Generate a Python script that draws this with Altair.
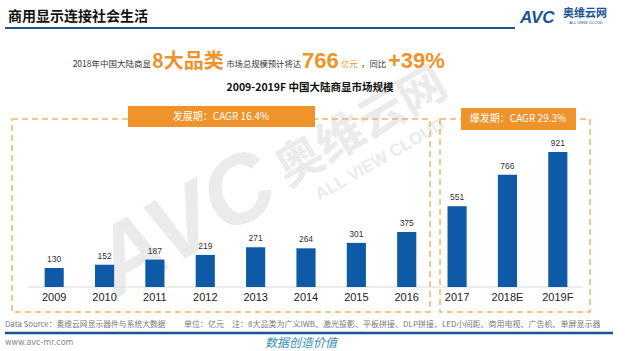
import altair as alt
import pandas as pd

years = ["2009", "2010", "2011", "2012", "2013", "2014", "2015", "2016", "2017", "2018E", "2019F"]
values = [130, 152, 187, 219, 271, 264, 301, 375, 551, 766, 921]

title_text = "商用显示连接社会生活"
subtitle_text = "2009-2019F  中国大陆商显市场规模"
phase1_label = "发展期：CAGR 16.4%"
phase2_label = "爆发期：CAGR 29.3%"
source_text = "Data Source：奥维云网显示器件与系统大数据"
unit_text = "单位：亿元"
note_text = "注：8大品类为广义IWB、激光投影、平板拼接、DLP拼接、LED小间距、商用电视、广告机、单屏显示器"

CJK = "Noto Sans CJK SC"
LAT = "Liberation Sans"
ORANGE = "#F0932B"
BLUE = "#0E5AA7"
DARKBLUE = "#1B5496"

df = pd.DataFrame({"year": years, "value": values})

W, H = 625, 351

xscale = alt.Scale(domain=years, range=[29, 583], paddingInner=0.62, paddingOuter=0.31)
yscale = alt.Scale(domain=[0, 921], range=[287, 152], nice=False, zero=True)

base = alt.Chart(df)

one = pd.DataFrame({"k": [0]})


def txt(text, x, y, size, color="#333333", font=CJK, weight="normal", align="left",
        baseline="alphabetic", angle=0, style="normal", opacity=1.0):
    kw = dict(text=text, fontSize=size, color=color, font=font, fontWeight=weight,
              align=align, baseline=baseline, fontStyle=style, opacity=opacity)
    if angle:
        kw["angle"] = angle
    return alt.Chart(one).mark_text(**kw).encode(x=alt.value(x), y=alt.value(y))


def rule(x1, x2, y1, y2, color, width, dash=None):
    kw = dict(color=color, strokeWidth=width)
    if dash:
        kw["strokeDash"] = dash
    return alt.Chart(one).mark_rule(**kw).encode(
        x=alt.value(x1), x2=alt.value(x2), y=alt.value(y1), y2=alt.value(y2))


def box(x1, x2, y1, y2, fill=None, stroke=None, dash=None, sw=1.5):
    kw = {}
    if fill:
        kw["fill"] = fill
    else:
        kw["fillOpacity"] = 0
    if stroke:
        kw["stroke"] = stroke
        kw["strokeWidth"] = sw
    if dash:
        kw["strokeDash"] = dash
    return alt.Chart(one).mark_rect(**kw).encode(
        x=alt.value(x1), x2=alt.value(x2), y=alt.value(y1), y2=alt.value(y2))


layers = []

# watermark
WM = "#ebebeb"
layers.append(txt("AVC", 185, 225, 95, color=WM, font=LAT, weight="bold", align="center",
                  baseline="middle", angle=330, style="italic"))
layers.append(txt("奥维云网", 362, 128, 47, color=WM, weight="bold", align="center",
                  baseline="middle", angle=330))
layers.append(txt("ALL VIEW CLOUD", 380, 160, 17, color=WM, font=LAT, weight="bold",
                  align="center", baseline="middle", angle=330))

# header
layers.append(txt(title_text, 8, 17, 14, color="#111111", weight="bold", baseline="middle"))
layers.append(rule(5, 515, 28, 28, DARKBLUE, 2))
layers.append(txt("AVC", 520, 18, 17, color=DARKBLUE, font=LAT, weight="bold",
                  baseline="middle", style="italic"))
layers.append(txt("奥维云网", 563, 14, 11, color=DARKBLUE, weight="bold", baseline="middle"))
layers.append(txt("ALL VIEW CLOUD", 586, 23, 4, color=DARKBLUE, font=LAT, align="center",
                  baseline="middle"))

# headline
layers.append(txt("2018年中国大陆商显", 151, 67, 8.5, align="right"))
layers.append(txt("8大品类", 152, 68, 20, color=ORANGE, weight="bold"))
layers.append(txt("市场总规模预计将达", 301, 67, 8.3, align="right"))
layers.append(txt("766", 302, 68, 22, color=ORANGE, font=LAT, weight="bold"))
layers.append(txt("亿元", 341, 67, 8.3, color=ORANGE))
layers.append(txt("，同比", 386, 67, 8.3, align="right"))
layers.append(txt("+39%", 388, 68, 22, color=ORANGE, font=LAT, weight="bold"))

layers.append(txt(subtitle_text, 310, 88, 10.5, color="#111111", weight="bold",
                  align="center", baseline="middle"))

# dashed phase boxes
layers.append(box(12, 430, 119, 312, stroke="#E8B86A", dash=[6, 4], sw=1.5))
layers.append(box(440, 590, 119, 312, stroke="#E8B86A", dash=[6, 4], sw=1.5))
layers.append(box(128, 315, 106, 127, fill=ORANGE))
layers.append(txt(phase1_label, 221, 117, 10, color="white", align="center", baseline="middle"))
layers.append(box(461, 576, 108, 130, fill=ORANGE))
layers.append(txt(phase2_label, 518, 119, 10, color="white", align="center", baseline="middle"))

# baseline
layers.append(rule(28, 583, 287, 287, "#d9d9d9", 1))

# bars and labels
bars = base.mark_bar(color=BLUE).encode(
    x=alt.X("year:N", scale=xscale, axis=None, sort=years),
    y=alt.Y("value:Q", scale=yscale, axis=None),
)
vlabels = base.mark_text(fontSize=8.5, color="#333333", font=LAT, baseline="bottom", dy=-4).encode(
    x=alt.X("year:N", scale=xscale, axis=None, sort=years),
    y=alt.Y("value:Q", scale=yscale, axis=None),
    text="value:Q",
)
ylabels = base.mark_text(fontSize=11, color="#222222", font=LAT, baseline="middle").encode(
    x=alt.X("year:N", scale=xscale, axis=None, sort=years),
    y=alt.value(298),
    text="year:N",
)
layers += [bars, vlabels, ylabels]

# footer
layers.append(txt(source_text, 5, 325, 7.8, color="#777777", baseline="middle"))
layers.append(txt(unit_text, 184, 325, 8, color="#777777", baseline="middle"))
layers.append(txt(note_text, 232, 325, 8, color="#777777", baseline="middle"))
layers.append(rule(5, 613, 333, 333, DARKBLUE, 2.5))
layers.append(txt("www.avc-mr.com", 5, 343, 8, color="#888888", font="DejaVu Sans", baseline="middle"))
layers.append(txt("数据创造价值", 265, 343, 12, color="#3A8DB5", baseline="middle", style="italic"))

chart = alt.layer(*layers).properties(
    width=W, height=H, padding=0, autosize=alt.AutoSizeParams(type="none"),
    background="white",
).configure_view(stroke=None)

chart.save("out.html", embed_options={"renderer": "svg", "actions": False})
